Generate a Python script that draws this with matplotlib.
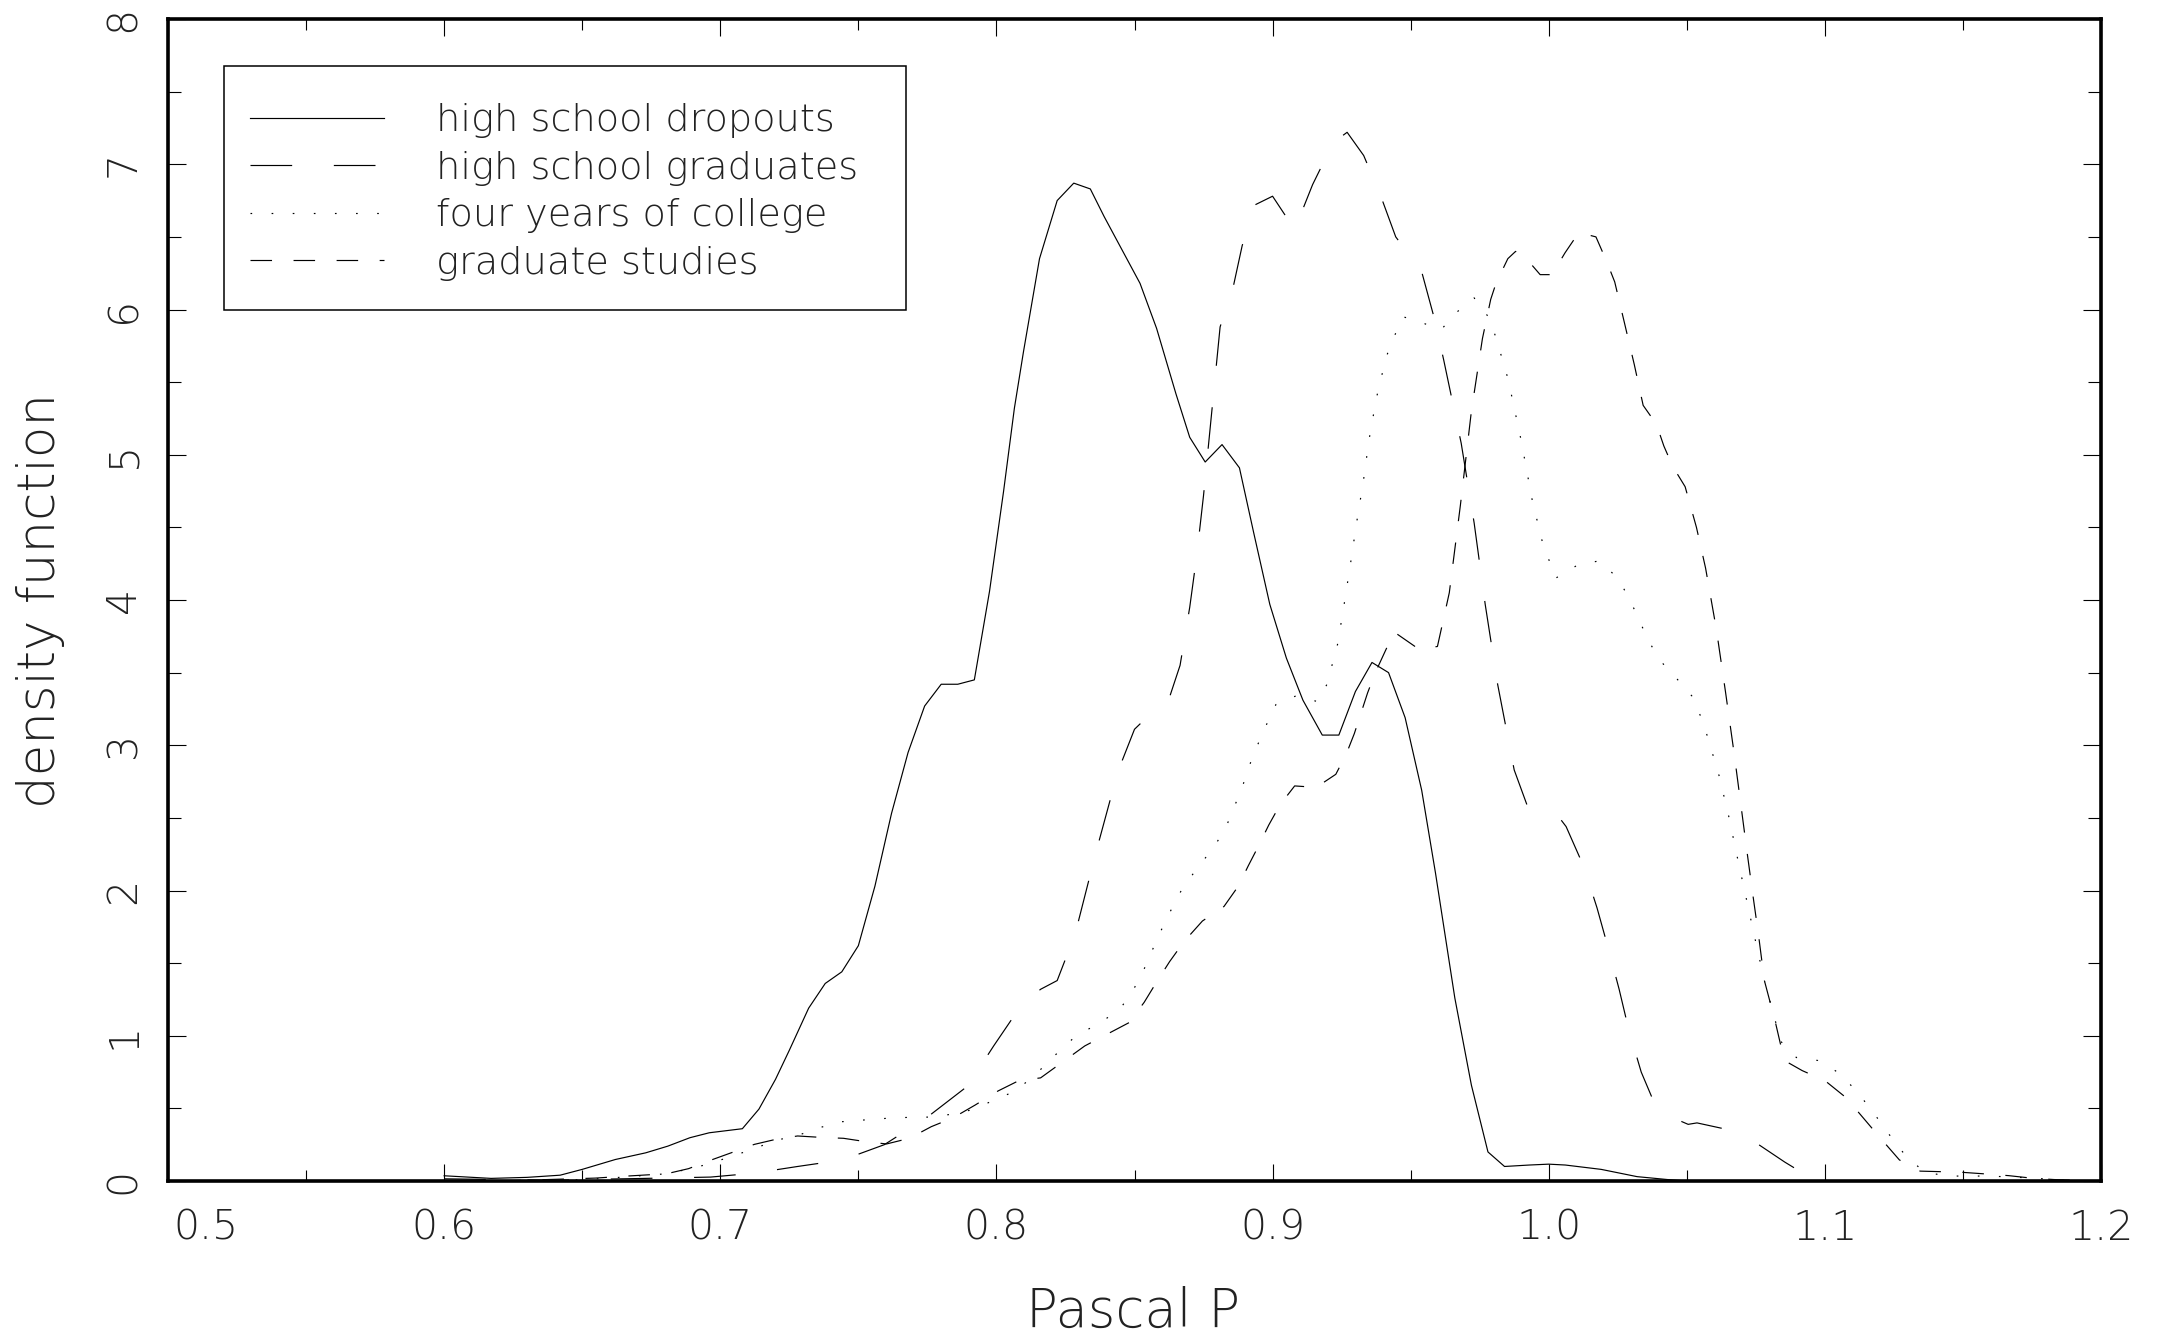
import matplotlib
matplotlib.use('Agg')
import matplotlib.pyplot as plt
from matplotlib import font_manager as fm
from matplotlib.patches import Rectangle
from matplotlib.ticker import MultipleLocator
from matplotlib.transforms import ScaledTranslation

# ---- data ----
# high school dropouts (solid)
hsd_x = [0.600, 0.617, 0.630, 0.642, 0.650, 0.662, 0.673, 0.681, 0.689, 0.696,
         0.708, 0.714, 0.720, 0.725, 0.732, 0.738, 0.744, 0.750, 0.756, 0.762,
         0.768, 0.774, 0.780, 0.786, 0.792, 0.7975, 0.8026, 0.8065, 0.8098, 0.8156,
         0.822, 0.828, 0.834, 0.839, 0.852, 0.858, 0.865, 0.870, 0.8756, 0.8817,
         0.888, 0.8932, 0.899, 0.905, 0.911, 0.918, 0.924, 0.930, 0.936, 0.942,
         0.948, 0.954, 0.959, 0.966, 0.972, 0.978, 0.984, 0.993, 1.000, 1.006,
         1.019, 1.032, 1.043, 1.050, 1.060]
hsd_y = [0.036, 0.018, 0.025, 0.040, 0.080, 0.148, 0.194, 0.240, 0.298, 0.332,
         0.360, 0.495, 0.700, 0.900, 1.190, 1.360, 1.440, 1.620, 2.030, 2.530,
         2.950, 3.270, 3.420, 3.420, 3.450, 4.060, 4.750, 5.320, 5.710, 6.350,
         6.750, 6.870, 6.830, 6.640, 6.180, 5.870, 5.420, 5.120, 4.950, 5.070,
         4.910, 4.460, 3.970, 3.600, 3.310, 3.070, 3.070, 3.370, 3.570, 3.500,
         3.190, 2.690, 2.120, 1.260, 0.660, 0.200, 0.100, 0.110, 0.116, 0.110,
         0.080, 0.030, 0.010, 0.000, 0.000]

# high school graduates (long dash)
hsg_x = [0.600, 0.640, 0.655, 0.6705, 0.6965, 0.7123, 0.728, 0.7443, 0.7594, 0.775,
         0.7896, 0.799, 0.809, 0.816, 0.822, 0.8285, 0.836, 0.844, 0.850, 0.856,
         0.8625, 0.8665, 0.870, 0.8725, 0.875, 0.878, 0.881, 0.8858, 0.889, 0.8936,
         0.900, 0.908, 0.9145, 0.922, 0.927, 0.933, 0.9392, 0.9446, 0.954, 0.9587,
         0.962, 0.9683, 0.973, 0.977, 0.9815, 0.9875, 0.9925, 1.0019, 1.0063, 1.0128,
         1.0175, 1.0216, 1.0255, 1.029, 1.0335, 1.0395, 1.0505, 1.0537, 1.0694, 1.0855,
         1.095, 1.100]
hsg_y = [0.015, 0.005, 0.012, 0.017, 0.027, 0.054, 0.100, 0.145, 0.250, 0.440,
         0.654, 0.930, 1.210, 1.320, 1.380, 1.700, 2.260, 2.820, 3.110, 3.220,
         3.320, 3.550, 3.950, 4.300, 4.720, 5.300, 5.880, 6.160, 6.440, 6.720,
         6.780, 6.550, 6.860, 7.150, 7.220, 7.060, 6.780, 6.500, 6.260, 5.930,
         5.650, 5.080, 4.530, 3.970, 3.420, 2.830, 2.570, 2.550, 2.440, 2.160,
         1.880, 1.600, 1.320, 1.040, 0.750, 0.480, 0.390, 0.400, 0.335, 0.130,
         0.020, 0.000]

# four years of college (dotted)
fyc_x = [0.640, 0.660, 0.6806, 0.688, 0.6958, 0.7036, 0.712, 0.720, 0.7275, 0.7359,
         0.7439, 0.752, 0.7599, 0.768, 0.7756, 0.784, 0.7918, 0.7997, 0.807, 0.8145,
         0.822, 0.8294, 0.837, 0.845, 0.8497, 0.8535, 0.8567, 0.860, 0.8636, 0.8675,
         0.873, 0.8788, 0.883, 0.886, 0.889, 0.8914, 0.8943, 0.8975, 0.9012, 0.9085,
         0.9164, 0.9197, 0.9236, 0.926, 0.9283, 0.9305, 0.9329, 0.9349, 0.9376, 0.9411,
         0.9437, 0.9473, 0.954, 0.961, 0.9666, 0.973, 0.9785, 0.981, 0.9853, 0.990,
         0.9941, 0.9977, 1.0025, 1.0104, 1.0184, 1.025, 1.0292, 1.0359, 1.040, 1.0463,
         1.0518, 1.055, 1.0575, 1.0617, 1.0652, 1.0684, 1.0716, 1.0748, 1.0781, 1.0841,
         1.0897, 1.0974, 1.1055, 1.1123, 1.118, 1.1233, 1.129, 1.1358, 1.1438, 1.1597,
         1.1756, 1.190]
fyc_y = [0.000, 0.020, 0.050, 0.080, 0.117, 0.167, 0.220, 0.280, 0.310, 0.367,
         0.408, 0.420, 0.431, 0.438, 0.440, 0.460, 0.493, 0.562, 0.620, 0.740,
         0.880, 1.010, 1.080, 1.190, 1.320, 1.460, 1.600, 1.740, 1.880, 2.020,
         2.160, 2.300, 2.430, 2.570, 2.710, 2.850, 2.990, 3.130, 3.280, 3.340,
         3.300, 3.420, 3.700, 3.980, 4.260, 4.540, 4.820, 5.100, 5.390, 5.670,
         5.800, 5.950, 5.910, 5.860, 5.980, 6.080, 5.940, 5.800, 5.520, 5.100,
         4.680, 4.400, 4.150, 4.240, 4.270, 4.150, 4.010, 3.730, 3.590, 3.460,
         3.340, 3.200, 3.060, 2.790, 2.510, 2.220, 1.940, 1.660, 1.380, 0.960,
         0.850, 0.830, 0.740, 0.600, 0.460, 0.320, 0.180, 0.065, 0.034, 0.034,
         0.020, 0.000]

# graduate studies (medium dash)
gs_x = [0.620, 0.6548, 0.6627, 0.6806, 0.6885, 0.6965, 0.7048, 0.7123, 0.7206, 0.728,
        0.7367, 0.7446, 0.7526, 0.7602, 0.7685, 0.7764, 0.7844, 0.7923, 0.8006, 0.808,
        0.816, 0.824, 0.832, 0.840, 0.848, 0.8535, 0.858, 0.8627, 0.868, 0.8746,
        0.8824, 0.8876, 0.8912, 0.895, 0.8986, 0.9027, 0.908, 0.9158, 0.9229, 0.9267,
        0.9296, 0.932, 0.9344, 0.9372, 0.9406, 0.944, 0.9531, 0.9597, 0.964, 0.968,
        0.972, 0.976, 0.979, 0.9809, 0.9852, 0.988, 0.991, 0.9969, 1.0012, 1.0059,
        1.0109, 1.0171, 1.021, 1.0239, 1.0274, 1.031, 1.0342, 1.039, 1.0417, 1.0449,
        1.0494, 1.0535, 1.0568, 1.0607, 1.064, 1.0671, 1.070, 1.072, 1.074, 1.076,
        1.0781, 1.082, 1.0853, 1.0918, 1.1001, 1.1076, 1.1141, 1.1199, 1.127, 1.1345,
        1.1425, 1.1503, 1.1587, 1.1665, 1.1752, 1.183, 1.200]
gs_y = [0.000, 0.020, 0.030, 0.050, 0.085, 0.143, 0.200, 0.252, 0.289, 0.310,
        0.300, 0.294, 0.271, 0.255, 0.294, 0.374, 0.436, 0.523, 0.620, 0.690,
        0.710, 0.820, 0.930, 1.010, 1.090, 1.230, 1.370, 1.510, 1.650, 1.790,
        1.890, 2.030, 2.170, 2.310, 2.450, 2.590, 2.720, 2.710, 2.800, 2.940,
        3.080, 3.220, 3.360, 3.500, 3.640, 3.780, 3.660, 3.680, 4.050, 4.650,
        5.300, 5.800, 6.070, 6.180, 6.350, 6.400, 6.370, 6.240, 6.240, 6.390,
        6.530, 6.500, 6.330, 6.190, 5.910, 5.620, 5.340, 5.210, 5.060, 4.920,
        4.780, 4.500, 4.220, 3.800, 3.370, 2.950, 2.530, 2.240, 1.960, 1.690,
        1.380, 1.100, 0.830, 0.760, 0.690, 0.575, 0.430, 0.300, 0.145, 0.068,
        0.064, 0.059, 0.048, 0.037, 0.019, 0.010, 0.000]

series_labels = ['high school dropouts', 'high school graduates',
                 'four years of college', 'graduate studies']
x_ticks = [0.5, 0.6, 0.7, 0.8, 0.9, 1.0, 1.1, 1.2]
x_tick_labels = ['0.5', '0.6', '0.7', '0.8', '0.9', '1.0', '1.1', '1.2']
y_ticks = [0, 1, 2, 3, 4, 5, 6, 7, 8]
y_tick_labels = ['0', '1', '2', '3', '4', '5', '6', '7', '8']


# thin sans font, nearest thing to the plotter stroke font
def thin_font():
    for name in ['DejaVu Sans', 'Lato', 'Roboto', 'Open Sans', 'Inter', 'Noto Sans']:
        found = [f for f in fm.fontManager.ttflist
                 if f.name == name and f.style == 'normal'
                 and isinstance(f.weight, (int, float)) and f.weight <= 300]
        if found:
            found.sort(key=lambda f: abs(f.weight - 250))
            return name, int(found[0].weight)
    return 'DejaVu Sans', 'normal'


font_name, font_weight = thin_font()
plt.rcParams['font.family'] = [font_name, 'DejaVu Sans']
plt.rcParams['font.weight'] = font_weight
plt.rcParams['lines.scale_dashes'] = False
plt.rcParams['text.color'] = '#222222'
plt.rcParams['xtick.color'] = 'black'
plt.rcParams['ytick.color'] = 'black'
plt.rcParams['xtick.labelcolor'] = '#222222'
plt.rcParams['ytick.labelcolor'] = '#222222'

W, H = 2158, 1336
fig = plt.figure(figsize=(W / 100, H / 100), dpi=100)
ax = fig.add_axes([168 / W, 155 / H, 1933 / W, 1162 / H])

lw = 0.85
l1, = ax.plot(hsd_x, hsd_y, color='black', lw=lw)
l2, = ax.plot(hsg_x, hsg_y, color='black', lw=lw, linestyle=(0, (30, 30)))
l3, = ax.plot(fyc_x, fyc_y, color='black', lw=lw, linestyle=(0, (1.2, 14)))
l4, = ax.plot(gs_x, gs_y, color='black', lw=lw, linestyle=(0, (15.5, 15.5)))

ax.set_xlim(0.5, 1.2)
ax.set_ylim(0, 8)

for sp in ax.spines.values():
    sp.set_linewidth(2.6)

ax.set_xticks(x_ticks, x_tick_labels)
ax.set_yticks(y_ticks, y_tick_labels)
ax.xaxis.set_minor_locator(MultipleLocator(0.05))
ax.yaxis.set_minor_locator(MultipleLocator(0.5))
ax.tick_params(which='both', direction='in', top=True, right=True, width=0.8)
ax.tick_params(axis='x', which='major', length=12.5, pad=20, labelsize=29.5)
ax.tick_params(axis='x', which='minor', length=8)
ax.tick_params(axis='y', which='major', length=13, pad=18, labelsize=29.5,
               labelrotation=90)
ax.tick_params(axis='y', which='minor', length=9.5)
for t in ax.get_yticklabels():
    t.set_verticalalignment('center')
# first x label sits right of the corner, as in the original
first = ax.xaxis.get_major_ticks()[0].label1
first.set_horizontalalignment('left')
first.set_transform(first.get_transform() + ScaledTranslation(4 / 72, 0, fig.dpi_scale_trans))

fig.text(1133 / W, 1 - 1312 / H, 'Pascal P', ha='center', va='center', fontsize=38)
fig.text(41 / W, 1 - 600 / H, 'density function', ha='center', va='center',
         rotation=90, fontsize=37)

# legend: entries without frame, box drawn separately at the original spot
ax.add_patch(Rectangle((56 / 1933, 871 / 1162), 682 / 1933, 244 / 1162,
                       transform=ax.transAxes, fill=False, edgecolor='black',
                       lw=1.1, zorder=5))
leg = ax.legend([l1, l2, l3, l4], series_labels, loc='upper left',
                bbox_to_anchor=(82 / 1933, 1 - 84 / 1162),
                borderaxespad=0, borderpad=0, frameon=False, fontsize=27.5,
                handlelength=3.5, handletextpad=1.36, labelspacing=0.33)

fig.savefig('out.png', dpi=100)
